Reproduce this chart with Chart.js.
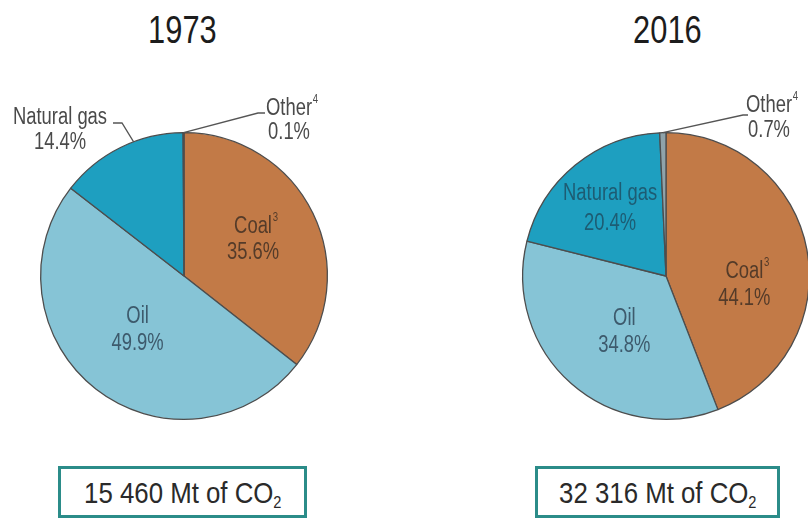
<!DOCTYPE html>
<html>
<head>
<meta charset="utf-8">
<script src="https://cdn.jsdelivr.net/npm/chart.js@4"></script>
<style>
  html, body { margin: 0; padding: 0; background: #fff; width: 808px; height: 523px; overflow: hidden; }
  body { position: relative; font-family: 'Liberation Sans', Arial, sans-serif; }
  .year { position: absolute; top: 10px; width: 200px; text-align: center; font-size: 39px; line-height: 39px; color: #1c1c1c; }
  .year span, .total span { display: inline-block; transform: scaleX(0.79); transform-origin: center; }
  .total span { transform: scaleX(0.86); }
  .total { position: absolute; top: 466px; height: 52px; box-sizing: border-box; border: 3px solid #2b8c89;
           display: flex; align-items: center; justify-content: center; font-size: 30px; color: #2a2a2a; padding-top: 2px; }
  .total sub { font-size: 17px; vertical-align: -5px; line-height: 0; }
  canvas { position: absolute; }
</style>
</head>
<body>
<div class="year" style="left:82px"><span>1973</span></div>
<div class="year" style="left:567px"><span>2016</span></div>
<canvas id="pie1973" width="400" height="360" style="left:0;top:80px"></canvas>
<canvas id="pie2016" width="420" height="360" style="left:408px;top:80px"></canvas>
<div class="total" style="left:58px;width:249px"><span>15 460 Mt of CO<sub>2</sub></span></div>
<div class="total" style="left:535px;width:245px"><span>32 316 Mt of CO<sub>2</sub></span></div>
<script>
// fuel shares of CO2 emissions, %
const fuels = ['Coal', 'Oil', 'Natural gas', 'Other'];
const notes = ['3', '', '', '4'];
const share1973 = [35.6, 49.9, 14.4, 0.1];
const share2016 = [44.1, 34.8, 20.4, 0.7];

const sliceColors = ['#c27a47', '#86c4d6', '#1e9fc0', '#8fa3aa'];
const FONT = "'Liberation Sans', Arial, sans-serif";
const SQUEEZE = 0.8; // narrow look of the original lettering

// label placement per slice: inside (radius fraction + angle shift) or outside with leader
const place1973 = [
  { inside: true, r: 0.545, shift: -2, color: 'rgba(72,52,38,0.9)', gap: 26 },
  { inside: true, r: 0.50, shift: 2.4, color: '#3d5a6c', gap: 27 },
  { inside: false, at: 0.61, elbow: [-62, -153], end: [-71, -153], text: [-124, -146], color: '#4a4a4a', gap: 25 },
  { inside: false, at: 0.5, elbow: [74, -163], end: [81, -163], text: [105, -155], color: '#4a4a4a', gap: 24 }
];
const place2016 = [
  { inside: true, r: 0.55, shift: 17, color: 'rgba(72,52,38,0.9)', gap: 27 },
  { inside: true, r: 0.49, shift: -5, color: '#3d5a6c', gap: 27 },
  { inside: true, r: 0.61, shift: -0.5, color: '#1d5c73', gap: 30 },
  { inside: false, at: 0.5, elbow: [77, -161], end: [82, -161], text: [103, -158], color: '#4a4a4a', gap: 25 }
];

// draws one line centred at x, squeezed horizontally, with optional superscript
function drawLine(ctx, text, note, x, y) {
  ctx.save();
  ctx.translate(x, y);
  ctx.scale(SQUEEZE, 1);
  ctx.font = '23px ' + FONT;
  ctx.textAlign = 'left';
  const w = ctx.measureText(text).width;
  ctx.fillText(text, -w / 2, 0);
  if (note) {
    ctx.font = '12px ' + FONT;
    ctx.fillText(note, w / 2 + 1, -9);
  }
  ctx.restore();
}

const sliceLabels = {
  id: 'sliceLabels',
  afterDatasetsDraw(chart, args, opts) {
    const ctx = chart.ctx;
    const meta = chart.getDatasetMeta(0);
    const vals = chart.data.datasets[0].data;
    ctx.save();
    ctx.textBaseline = 'middle';
    meta.data.forEach((arc, i) => {
      const p = opts.place[i];
      const { x, y, startAngle, endAngle, outerRadius } =
        arc.getProps(['x', 'y', 'startAngle', 'endAngle', 'outerRadius'], true);
      let tx, ty;
      if (p.inside) {
        const a = (startAngle + endAngle) / 2 + p.shift * Math.PI / 180;
        tx = x + Math.cos(a) * outerRadius * p.r;
        ty = y + Math.sin(a) * outerRadius * p.r;
      } else {
        const a = startAngle + (endAngle - startAngle) * p.at;
        ctx.strokeStyle = '#555';
        ctx.lineWidth = 1.3;
        ctx.beginPath();
        ctx.moveTo(x + Math.cos(a) * outerRadius, y + Math.sin(a) * outerRadius);
        ctx.lineTo(x + p.elbow[0], y + p.elbow[1]);
        ctx.lineTo(x + p.end[0], y + p.end[1]);
        ctx.stroke();
        tx = x + p.text[0];
        ty = y + p.text[1];
      }
      ctx.fillStyle = p.color;
      drawLine(ctx, chart.data.labels[i], notes[i], tx, ty - p.gap / 2);
      drawLine(ctx, vals[i].toFixed(1) + '%', '', tx, ty + p.gap / 2);
    });
    ctx.restore();
  }
};

function makePie(id, values, place, padding) {
  new Chart(document.getElementById(id), {
    type: 'pie',
    data: {
      labels: fuels,
      datasets: [{ data: values, backgroundColor: sliceColors, borderColor: '#4d4d4d', borderWidth: 1.3 }]
    },
    options: {
      responsive: false,
      animation: false,
      layout: { padding: padding },
      plugins: {
        legend: { display: false },
        tooltip: { enabled: false },
        sliceLabels: { place: place }
      }
    },
    plugins: [sliceLabels]
  });
}

makePie('pie1973', share1973, place1973, { left: 40, right: 72, top: 52, bottom: 20 });
makePie('pie2016', share2016, place2016, { left: 114, right: 18, top: 52, bottom: 20 });
</script>
</body>
</html>
